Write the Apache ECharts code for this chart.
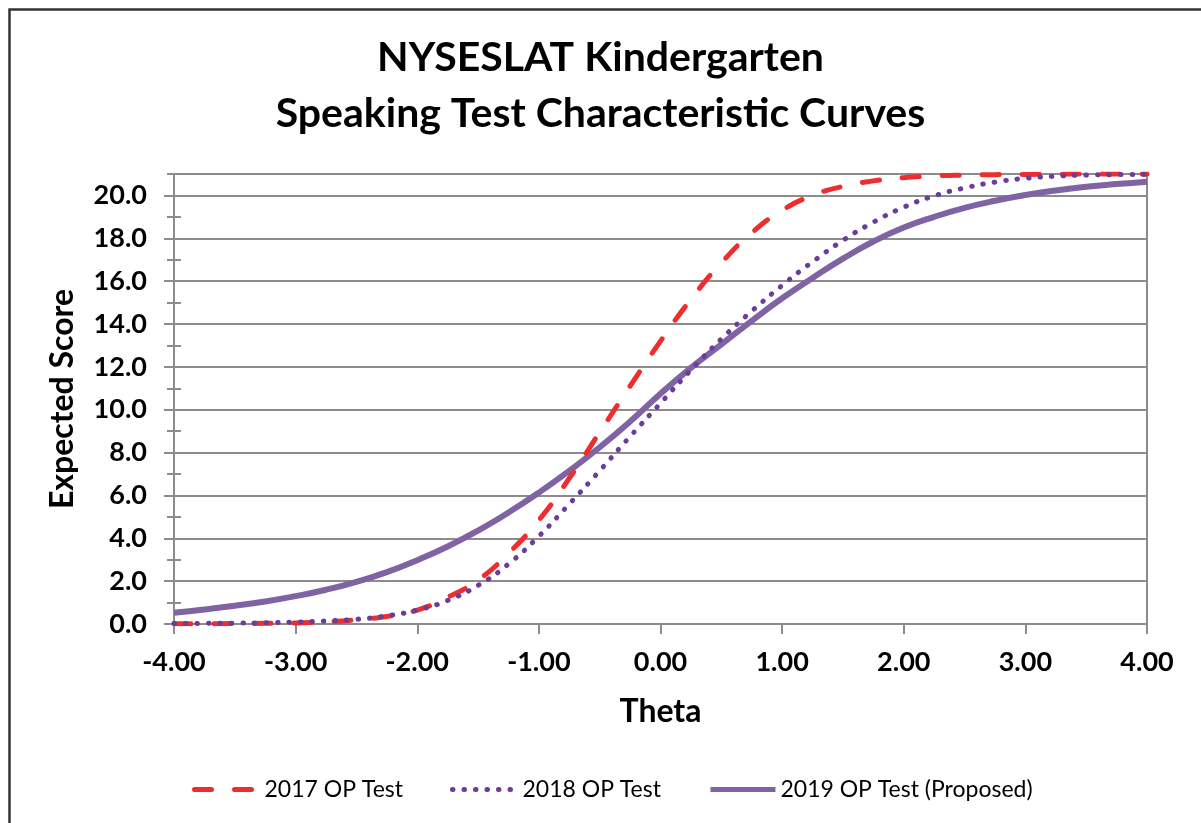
<!DOCTYPE html>
<html>
<head>
<meta charset="utf-8">
<script src="https://cdn.jsdelivr.net/npm/echarts@6/dist/echarts.min.js"></script>
<style>
html,body{margin:0;padding:0;background:#fff;}
#chart{width:1201px;height:823px;}
</style>
</head>
<body>
<div id="chart"></div>
<script>
var titleText = 'NYSESLAT Kindergarten\nSpeaking Test Characteristic Curves';
var xName = 'Theta';
var yName = 'Expected Score';
var seriesNames = ['2017 OP Test', '2018 OP Test', '2019 OP Test (Proposed)'];

var theta = [-4, -3.75, -3.5, -3.25, -3, -2.75, -2.5, -2.25, -2, -1.75, -1.5, -1.25, -1, -0.75, -0.5, -0.25,
  0, 0.25, 0.5, 0.75, 1, 1.25, 1.5, 1.75, 2, 2.25, 2.5, 2.75, 3, 3.25, 3.5, 3.75, 4];

var op2017 = [0.01, 0.015, 0.02, 0.03, 0.05, 0.1, 0.2, 0.35, 0.65, 1.25, 2.05, 3.3, 4.85, 6.8, 8.95, 11.1,
  13.2, 15.15, 16.85, 18.25, 19.3, 20.0, 20.42, 20.68, 20.83, 20.91, 20.95, 20.97, 20.98, 20.99, 21.0, 21.0, 21.0];

var op2018 = [0.02, 0.03, 0.04, 0.06, 0.09, 0.14, 0.22, 0.38, 0.65, 1.1, 1.8, 2.8, 4.1, 5.6, 7.15, 8.75,
  10.3, 11.85, 13.3, 14.6, 15.8, 16.9, 17.9, 18.75, 19.45, 19.98, 20.35, 20.62, 20.8, 20.9, 20.95, 20.97, 20.98];

var op2019 = [0.53, 0.68, 0.85, 1.05, 1.3, 1.6, 1.97, 2.42, 2.98, 3.62, 4.36, 5.2, 6.13, 7.15, 8.25, 9.45,
  10.75, 11.95, 13.05, 14.15, 15.2, 16.15, 17.05, 17.85, 18.5, 19.0, 19.42, 19.75, 20.02, 20.23, 20.4, 20.53, 20.64];

function pairs(ys) { return theta.map(function (t, i) { return [t, ys[i]]; }); }

var FONT = 'Lato, "Open Sans", sans-serif';
var GRID = '#8c8c8c';

var chart = echarts.init(document.getElementById('chart'), null, {renderer: 'canvas'});
chart.setOption({
  backgroundColor: '#ffffff',
  animation: false,
  title: {
    text: titleText,
    left: 'center',
    top: 25,
    textStyle: {fontFamily: FONT, fontSize: 41, fontWeight: 'bold', color: '#000', lineHeight: 56}
  },
  graphic: [{
    type: 'rect', left: 7, top: 7, shape: {width: 1300, height: 1000},
    style: {fill: 'none', stroke: '#333', lineWidth: 2.5}, silent: true, z: -1
  }],
  legend: {
    left: 187, top: 773,
    itemWidth: 65, itemHeight: 12, itemGap: 47,
    itemStyle: {opacity: 0},
    lineStyle: {width: 5},
    textStyle: {fontFamily: FONT, fontSize: 23, color: '#000'},
    data: seriesNames
  },
  grid: {left: 174, right: 54, top: 174, bottom: 199, containLabel: false},
  xAxis: {
    type: 'value', min: -4, max: 4, interval: 1,
    name: xName, nameLocation: 'middle', nameGap: 72,
    nameTextStyle: {fontFamily: FONT, fontSize: 32, fontWeight: 'bold', color: '#000'},
    axisLine: {show: true, onZero: false, lineStyle: {color: GRID, width: 2}},
    axisTick: {show: true, length: 10, lineStyle: {color: GRID, width: 2}},
    axisLabel: {fontFamily: FONT, fontSize: 27, fontWeight: 'bold', color: '#000', margin: 25,
      formatter: function (v) { return v.toFixed(2); }},
    splitLine: {show: false}
  },
  yAxis: [{
    type: 'value', min: 0, max: 21, interval: 2, position: 'left',
    name: yName, nameLocation: 'middle', nameGap: 95, nameRotate: 90,
    nameTextStyle: {fontFamily: FONT, fontSize: 32, fontWeight: 'bold', color: '#000'},
    axisLine: {show: true, onZero: false, lineStyle: {color: GRID, width: 2}},
    axisTick: {show: true, length: 10, lineStyle: {color: GRID, width: 2}},
    axisLabel: {fontFamily: FONT, fontSize: 27, fontWeight: 'bold', color: '#000', margin: 27,
      showMaxLabel: false, formatter: function (v) { return v.toFixed(1); }},
    splitLine: {show: true, lineStyle: {color: GRID, width: 2}}
  }, {
    type: 'value', min: 0, max: 21, interval: 1, position: 'left', offset: -7,
    axisLine: {show: false, onZero: false}, axisLabel: {show: false}, splitLine: {show: false},
    axisTick: {show: true, length: 14, lineStyle: {color: GRID, width: 2}}
  }, {
    type: 'value', min: 0, max: 21, interval: 1, position: 'right',
    axisLine: {show: true, onZero: false, lineStyle: {color: GRID, width: 2}},
    axisLabel: {show: false}, splitLine: {show: false}, axisTick: {show: false}
  }],
  series: [{
    name: seriesNames[0], type: 'line', smooth: true, symbol: 'none', data: pairs(op2017), z: 3,
    lineStyle: {color: '#ee2e2e', width: 5, type: [17, 23], cap: 'round'},
    itemStyle: {color: '#ee2e2e'}
  }, {
    name: seriesNames[1], type: 'line', smooth: true, symbol: 'none', data: pairs(op2018), z: 4,
    lineStyle: {color: '#6a3d9a', width: 5, type: [0.5, 11], cap: 'round'},
    itemStyle: {color: '#6a3d9a'}
  }, {
    name: seriesNames[2], type: 'line', smooth: true, symbol: 'none', data: pairs(op2019), z: 2,
    lineStyle: {color: '#7f63a3', width: 6},
    itemStyle: {color: '#7f63a3'}
  }]
});
</script>
</body>
</html>
